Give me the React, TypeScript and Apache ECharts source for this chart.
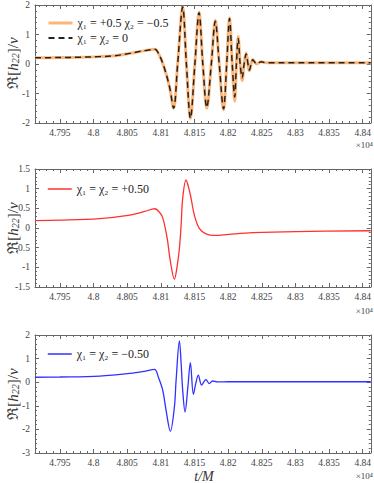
import React, { useEffect, useRef } from "react";
import * as echarts from "echarts";

// ---- data (t/M, Re[h22]/nu) ----
const topT = [47913, 47950, 47980, 48009, 48031, 48054, 48068, 48080, 48091, 48098, 48105, 48113, 48119, 48125, 48132.5, 48138, 48144, 48150.6, 48156.8, 48162.4, 48168.3, 48175, 48181, 48186.8, 48193.2, 48197.9, 48202.1, 48206.1, 48209.8, 48212.3, 48215, 48217.9, 48220.9, 48223.8, 48226.8, 48231.7, 48236.7, 48242.6, 48249, 48256.4, 48305, 48412];
const orangeV = [0.21, 0.22, 0.23, 0.25, 0.28, 0.36, 0.42, 0.47, 0.5, 0.29, -0.12, -0.78, -1.5, 0.0, 1.93, 0.0, -1.85, 0.0, 1.76, 0.0, -1.5, 0.0, 1.48, 0.0, -1.55, 0.0, 1.57, 0.0, -1.26, 0.0, 0.93, 0.0, -0.56, 0.0, 0.37, -0.23, 0.15, 0.0, 0.08, 0.04, 0.04, 0.04];
const blackV = [0.21, 0.22, 0.23, 0.25, 0.28, 0.36, 0.42, 0.47, 0.5, 0.29, -0.12, -0.78, -1.5, 0.0, 1.93, 0.0, -1.84, 0.0, 1.74, 0.0, -1.47, 0.0, 1.45, 0.0, -1.52, 0.0, 1.54, 0.0, -1.12, 0.0, 0.86, 0.0, -0.47, 0.0, 0.34, -0.2, 0.14, 0.0, 0.08, 0.04, 0.04, 0.04];

const redT = [47913, 47950, 48009, 48054, 48076, 48091, 48098, 48103, 48109.4, 48114.3, 48120.2, 48124, 48127.6, 48130.2, 48132.5, 48137.5, 48141, 48144.9, 48149.8, 48157.2, 48167.1, 48179.9, 48201.6, 48236.7, 48300.8, 48412];
const redV = [0.19, 0.2, 0.24, 0.33, 0.42, 0.49, 0.4, 0.25, -0.26, -0.86, -1.3, -1.0, -0.52, 0.08, 0.76, 1.22, 1.05, 0.76, 0.33, -0.01, -0.15, -0.19, -0.16, -0.12, -0.09, -0.07];

const blueT = [47913, 47950, 48009, 48054, 48076, 48090.6, 48096.5, 48102.8, 48107.8, 48114.2, 48120.2, 48122.7, 48127.6, 48130.2, 48132.5, 48136, 48140.2, 48143.9, 48148.4, 48152, 48155.7, 48160.6, 48167.1, 48172, 48176.9, 48183.9, 48201.6, 48412];
const blueV = [0.21, 0.22, 0.26, 0.37, 0.46, 0.54, 0.2, -0.34, -1.19, -2.08, -1.04, 0.08, 1.75, 0.79, -0.34, -1.26, -0.2, 0.83, -0.51, -0.05, 0.3, -0.12, 0.11, -0.06, 0.05, 0.01, 0.02, 0.02];

const seriesNames = ["χ₁ = +0.5 χ₂ = −0.5", "χ₁ = χ₂ = 0", "χ₁ = χ₂ = +0.50", "χ₁ = χ₂ = −0.50"];
const yRanges = [
  [-2, 2, 1],
  [-1.5, 1.5, 0.5],
  [-3, 2, 1],
];
const X_MIN = 47913;
const X_MAX = 48412;

const pairs = (t: number[], v: number[]) => t.map((x, i) => [x, v[i]]);

const FONT = "'Liberation Serif', 'DejaVu Serif', serif";
const AXIS_COLOR = "#666";
const LABEL_COLOR = "#444";

export default function App() {
  const ref = useRef<HTMLDivElement>(null);
  useEffect(() => {
    if (!ref.current) return;
    const chart = echarts.init(ref.current, null, { renderer: "svg" });
    const grids = [
      { left: 35, top: 4, width: 337, height: 119 },
      { left: 35, top: 169, width: 337, height: 118 },
      { left: 35, top: 335, width: 337, height: 118 },
    ];
    const xAxes: any[] = [];
    const yAxes: any[] = [];
    grids.forEach((_, gi) => {
      const common = {
        type: "value",
        gridIndex: gi,
        min: X_MIN,
        max: X_MAX,
        splitNumber: 10,
        splitLine: { show: false },
        axisLine: { show: true, onZero: false, lineStyle: { color: AXIS_COLOR, width: 1 } },
        axisTick: { show: true, inside: true, length: 4, lineStyle: { color: AXIS_COLOR } },
        minorTick: { show: true, splitNumber: 5, length: 2, lineStyle: { color: AXIS_COLOR } },
      };
      xAxes.push({
        ...common,
        position: "bottom",
        axisLabel: {
          show: true,
          showMinLabel: false,
          showMaxLabel: false,
          margin: 5,
          color: LABEL_COLOR,
          fontFamily: FONT,
          fontSize: 9.5,
          formatter: (v: number) => (Math.abs(v % 50) < 1e-6 ? String(parseFloat((v / 1e4).toFixed(4))) : ""),
        },
      });
      xAxes.push({ ...common, position: "top", axisLabel: { show: false } });
      const [mn, mx, iv] = yRanges[gi];
      const ycommon = {
        type: "value",
        gridIndex: gi,
        min: mn,
        max: mx,
        interval: iv,
        splitLine: { show: false },
        axisLine: { show: true, onZero: false, lineStyle: { color: AXIS_COLOR, width: 1 } },
        axisTick: { show: true, inside: true, length: 4, lineStyle: { color: AXIS_COLOR } },
        minorTick: { show: true, splitNumber: 5, length: 2, lineStyle: { color: AXIS_COLOR } },
      };
      yAxes.push({
        ...ycommon,
        position: "left",
        axisLabel: { show: true, margin: 5, color: LABEL_COLOR, fontFamily: FONT, fontSize: 9.5 },
      });
      yAxes.push({ ...ycommon, position: "right", axisLabel: { show: false } });
    });

    const lineBase = { type: "line", symbol: "none", showSymbol: false, smooth: 0.35, animation: false };

    const legendCommon = {
      orient: "vertical",
      left: 42,
      itemWidth: 24,
      itemHeight: 10,
      itemGap: 3,
      itemStyle: { opacity: 0 },
      textStyle: { fontFamily: FONT, fontSize: 12, color: "#222" },
      selectedMode: false,
    };

    const yLabel = (y: number) => ({
      type: "text",
      x: 13,
      y,
      rotation: Math.PI / 2,
      style: {
        text: "ℜ[{i|h}{s|22}]/{i|ν}",
        rich: {
          i: { fontStyle: "italic", fontFamily: FONT, fontSize: 15, fill: "#333" },
          s: { fontStyle: "italic", fontFamily: FONT, fontSize: 10, fill: "#333", padding: [5, 0, 0, 0] },
        },
        fontFamily: FONT,
        fontSize: 15,
        fill: "#333",
        align: "center",
        verticalAlign: "middle",
      },
    });
    const exp = (y: number) => ({
      type: "text",
      x: 373,
      y,
      style: { text: "×10⁴", fontFamily: FONT, fontSize: 9, fill: LABEL_COLOR, align: "right", verticalAlign: "middle" },
    });

    chart.setOption({
      animation: false,
      grid: grids,
      xAxis: xAxes,
      yAxis: yAxes,
      legend: [
        {
          ...legendCommon,
          top: 12,
          data: [
            { name: seriesNames[0], lineStyle: { width: 3 } },
            { name: seriesNames[1], lineStyle: { width: 1.8 } },
          ],
        },
        { ...legendCommon, top: 178, data: [{ name: seriesNames[2], lineStyle: { width: 1.5 } }] },
        { ...legendCommon, top: 343, data: [{ name: seriesNames[3], lineStyle: { width: 1.5 } }] },
      ],
      series: [
        {
          ...lineBase,
          name: seriesNames[0],
          xAxisIndex: 0,
          yAxisIndex: 0,
          data: pairs(topT, orangeV),
          lineStyle: { color: "#FDB677", width: 3 },
          itemStyle: { color: "#FDB677" },
          z: 2,
        },
        {
          ...lineBase,
          name: seriesNames[1],
          xAxisIndex: 0,
          yAxisIndex: 0,
          data: pairs(topT, blackV),
          lineStyle: { color: "#222", width: 1.5, type: [6, 4] },
          itemStyle: { color: "#222" },
          z: 3,
        },
        {
          ...lineBase,
          name: seriesNames[2],
          xAxisIndex: 2,
          yAxisIndex: 2,
          data: pairs(redT, redV),
          lineStyle: { color: "#FF3030", width: 1.3 },
          itemStyle: { color: "#FF3030" },
        },
        {
          ...lineBase,
          name: seriesNames[3],
          xAxisIndex: 4,
          yAxisIndex: 4,
          data: pairs(blueT, blueV),
          lineStyle: { color: "#3030FF", width: 1.3 },
          itemStyle: { color: "#3030FF" },
        },
      ],
      graphic: [
        yLabel(63),
        yLabel(228),
        yLabel(394),
        exp(145),
        exp(311),
        exp(476),
        {
          type: "text",
          x: 204,
          y: 476,
          style: {
            text: "t/M",
            fontFamily: FONT,
            fontStyle: "italic",
            fontSize: 14,
            fill: "#333",
            align: "center",
            verticalAlign: "middle",
          },
        },
      ],
    });
    return () => chart.dispose();
  }, []);
  return <div ref={ref} style={{ position: "fixed", left: 0, top: 0, width: 374, height: 483, background: "#fff" }} />;
}
